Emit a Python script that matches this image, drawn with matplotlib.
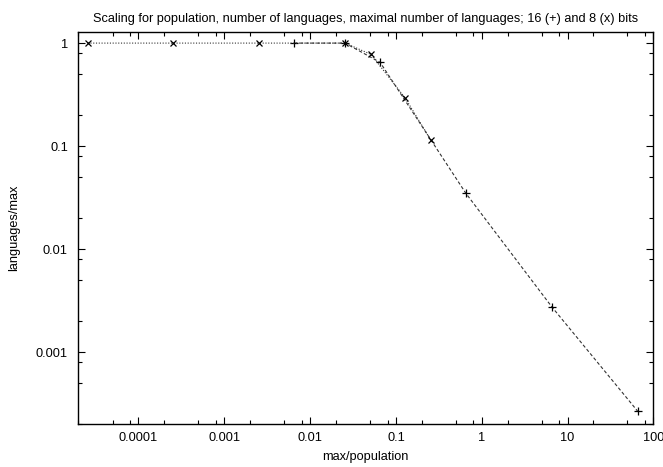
import matplotlib
matplotlib.use("Agg")
import matplotlib.pyplot as plt
from matplotlib.ticker import LogLocator, FixedLocator, NullFormatter

plt.rcParams['font.family'] = ['Liberation Sans', 'DejaVu Sans']

# 16-bit series (+)
x16 = [0.0065536, 0.0256, 0.065536, 0.65536, 6.5536, 65.536]
y16 = [1.0, 1.0, 0.65, 0.0347, 0.00275, 0.000267]

# 8-bit series (x)
x8 = [2.56e-5, 2.56e-4, 2.56e-3, 0.0256, 0.0512, 0.128, 0.256]
y8 = [1.0, 1.0, 1.0, 1.0, 0.777, 0.294, 0.114]

xticks = [1e-4, 1e-3, 1e-2, 1e-1, 1, 10, 100]
xticklabels = ["0.0001", "0.001", "0.01", "0.1", "1", "10", "100"]
yticks = [1e-3, 1e-2, 1e-1, 1]
yticklabels = ["0.001", "0.01", "0.1", "1"]

FS = 9.2

fig = plt.figure(figsize=(6.63, 4.67), dpi=100)
ax = fig.add_axes([0.1169, 0.0921, 0.9854 - 0.1169, 0.9321 - 0.0921])

ax.plot(x16, y16, linestyle=(0, (3, 2)), color='#333333', linewidth=0.8,
        marker='+', markersize=6, markeredgecolor='black', markeredgewidth=0.9)
ax.plot(x8, y8, linestyle=(0, (1, 1.5)), color='#333333', linewidth=0.8,
        marker='x', markersize=5, markeredgecolor='black', markeredgewidth=0.9)

ax.set_xscale('log')
ax.set_yscale('log')
ax.set_xlim(1.95e-5, 100)
ax.set_ylim(2.0e-4, 1.29)

ax.xaxis.set_major_locator(FixedLocator(xticks))
ax.set_xticklabels(xticklabels)
ax.yaxis.set_major_locator(FixedLocator(yticks))
ax.set_yticklabels(yticklabels)
ax.xaxis.set_minor_locator(LogLocator(base=10, subs=[2, 5, 8], numticks=50))
ax.yaxis.set_minor_locator(LogLocator(base=10, subs=[2, 5, 8], numticks=50))
ax.xaxis.set_minor_formatter(NullFormatter())
ax.yaxis.set_minor_formatter(NullFormatter())

ax.tick_params(which='both', direction='in', top=True, right=True, labelsize=FS, width=0.8)
ax.tick_params(axis='x', which='major', length=5, pad=6)
ax.tick_params(axis='y', which='major', length=5, pad=7)
ax.tick_params(which='minor', length=2.8)
for s in ax.spines.values():
    s.set_linewidth(1.0)

ax.set_xlabel("max/population", fontsize=FS, labelpad=5)
ax.set_ylabel("languages/max", fontsize=FS, labelpad=11)
ax.set_title("Scaling for population, number of languages, maximal number of languages; 16 (+) and 8 (x) bits",
             fontsize=FS, pad=7)

fig.savefig("out.png", dpi=100)
